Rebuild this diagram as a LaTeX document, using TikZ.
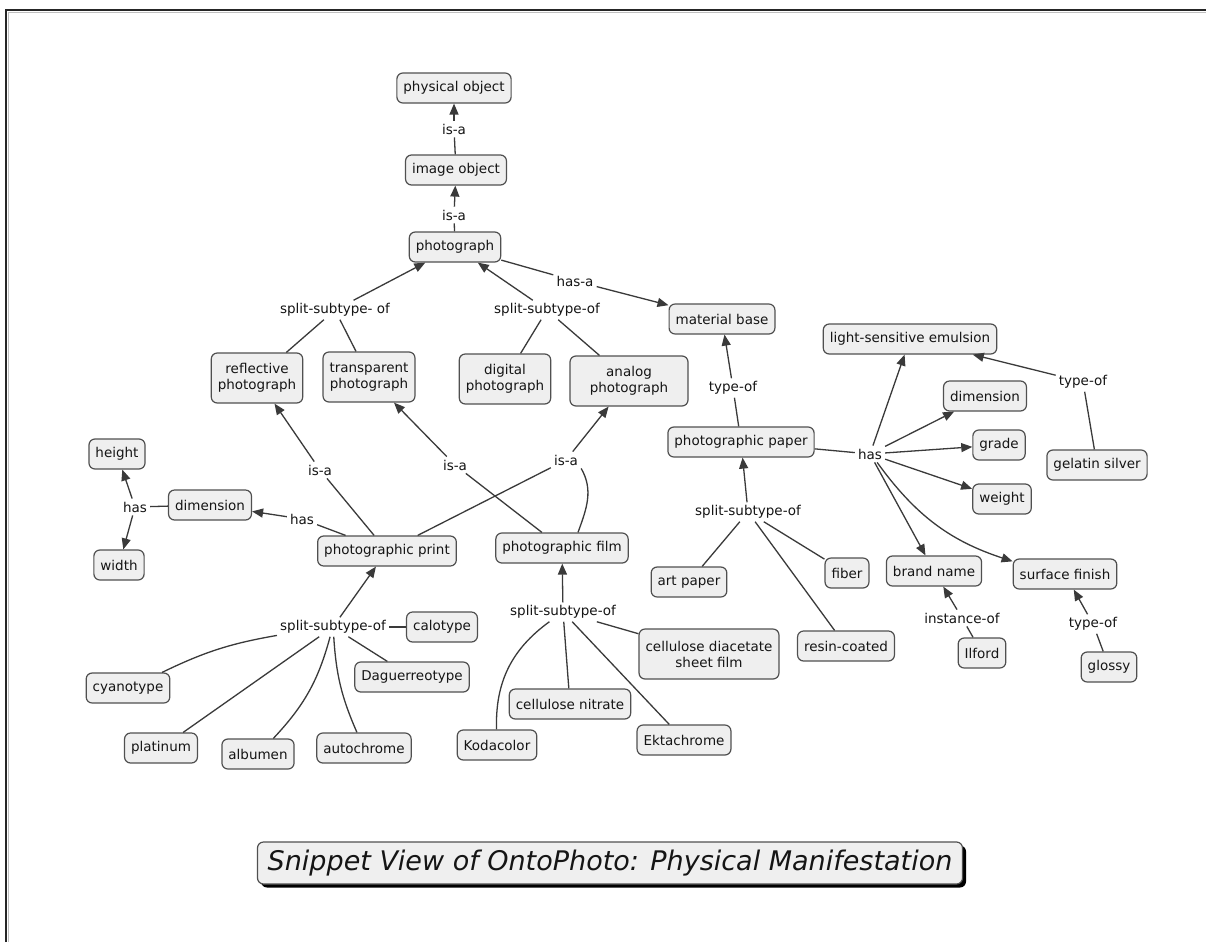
\documentclass[tikz,border=0pt]{standalone}
\usepackage{fontspec}
\setmainfont{DejaVu Sans}
\usetikzlibrary{arrows.meta,shadows}
\definecolor{nodefill}{HTML}{EFEFEF}
\definecolor{bordercol}{HTML}{505050}
\definecolor{linecol}{HTML}{3A3A3A}
\definecolor{textcol}{HTML}{151515}
\newcommand\fsz{\fontsize{13.5}{16}\selectfont}
\begin{document}
\begin{tikzpicture}[x=1pt,y=1pt,
  concept/.style={draw=bordercol, fill=nodefill, rounded corners=6pt, line width=1.2pt,
    inner xsep=6.5pt, inner ysep=5pt, minimum height=30pt, align=center, font=\fsz, text=textcol},
  twoline/.style={concept, minimum height=50pt},
  lbl/.style={inner sep=3pt, font=\fsz, text=textcol},
  link/.style={draw=linecol, line width=1.3pt},
  arr/.style={link, -{Triangle[length=11pt,width=9pt]}}
]
\useasboundingbox (0,0) rectangle (1206,-942);
\fill[white] (0,0) rectangle (1206,-942);
% frame
\draw[black!85, line width=1.8pt] (6,-942) -- (6,-10) -- (1206,-10);
\draw[black!25, line width=1pt] (8,-942) -- (8,-12.5) -- (1206,-12.5);

% concepts
\node[concept] (phys) at (454,-88) {physical object};
\node[concept] (imgobj) at (456,-170) {image object};
\node[concept] (photo) at (455,-247) {photograph};
\node[concept] (matbase) at (722,-319) {material base};
\node[twoline] (refl) at (257,-378) {reflective\\photograph};
\node[twoline] (transp) at (369,-377) {transparent\\photograph};
\node[twoline] (digital) at (505,-379) {digital\\photograph};
\node[twoline, minimum width=118pt] (analog) at (629,-381) {analog\\photograph};
\node[concept] (lse) at (910,-339) {light-sensitive emulsion};
\node[concept] (dimR) at (985,-396) {dimension};
\node[concept] (paper) at (741,-442) {photographic paper};
\node[concept] (grade) at (999,-445) {grade};
\node[concept] (gelatin) at (1097,-465) {gelatin silver};
\node[concept] (weight) at (1002,-499) {weight};
\node[concept] (height) at (117,-454) {height};
\node[concept] (dimL) at (210,-505) {dimension};
\node[concept] (print) at (387,-551) {photographic print};
\node[concept] (film) at (562,-548) {photographic film};
\node[concept] (width) at (119,-565) {width};
\node[concept] (artpaper) at (689,-582) {art paper};
\node[concept] (fiber) at (847,-573) {fiber};
\node[concept] (brand) at (934,-571) {brand name};
\node[concept] (surface) at (1065,-574) {surface finish};
\node[concept] (calotype) at (442,-627) {calotype};
\node[twoline] (cda) at (709,-654) {cellulose diacetate\\sheet film};
\node[concept] (resin) at (846,-646) {resin-coated};
\node[concept] (cyan) at (128,-688) {cyanotype};
\node[concept] (dag) at (412,-677) {Daguerreotype};
\node[concept] (nitrate) at (570,-704) {cellulose nitrate};
\node[concept] (ilford) at (982,-653) {Ilford};
\node[concept] (glossy) at (1109,-667) {glossy};
\node[concept] (platinum) at (161,-748) {platinum};
\node[concept] (albumen) at (258,-754) {albumen};
\node[concept] (autochrome) at (364,-748) {autochrome};
\node[concept] (kodacolor) at (497,-745) {Kodacolor};
\node[concept] (ektachrome) at (684,-740) {Ektachrome};

% link labels
\node[lbl] (isa1) at (454,-129) {is-a};
\node[lbl] (isa2) at (454,-215) {is-a};
\node[lbl] (hasa) at (575,-281) {has-a};
\node[lbl] (splitL) at (335,-310) {split-subtype- of};
\node[lbl] (splitR) at (547,-310) {split-subtype-of};
\node[lbl] (typeofGel) at (1083,-382) {type-of};
\node[lbl] (typeofMat) at (733,-388) {type-of};
\node[lbl] (hasR) at (870,-454) {has};
\node[lbl] (isaL) at (320,-470) {is-a};
\node[lbl] (isaM) at (455,-465) {is-a};
\node[lbl] (isaRt) at (566,-460) {is-a};
\node[lbl] (hasL) at (135,-507) {has};
\node[lbl] (hasM) at (302,-519) {has};
\node[lbl] (splitPaper) at (748,-512) {split-subtype-of};
\node[lbl] (splitPrint) at (333,-627) {split-subtype-of};
\node[lbl] (splitFilm) at (563,-612) {split-subtype-of};
\node[lbl] (instance) at (962,-618) {instance-of};
\node[lbl] (typeofGlossy) at (1093,-624) {type-of};

% top chain
\draw[link] (imgobj) -- (isa1);
\draw[arr] (isa1) -- (phys);
\draw[link] (photo) -- (isa2);
\draw[arr] (isa2) -- (imgobj);
\draw[link] (photo) -- (hasa);
\draw[arr] (hasa) -- (matbase);

% photograph splits
\draw[arr] (splitL) -- (photo);
\draw[link] (refl) -- (splitL);
\draw[link] (transp) -- (splitL);
\draw[arr] (splitR) -- (photo);
\draw[link] (digital) -- (splitR);
\draw[link] (analog) -- (splitR);

% is-a from print / film
\draw[link] (print) -- (isaL);
\draw[arr] (isaL) -- (refl);
\draw[link] (film) -- (isaM);
\draw[arr] (isaM) -- (transp);
\draw[link] (print) -- (isaRt);
\draw[link] ([xshift=16pt]film.north) to[out=70,in=-60] (isaRt.south east);
\draw[arr] (isaRt) -- (analog);

% dimension left
\draw[link] (print) -- (hasM);
\draw[arr] (hasM) -- (dimL);
\draw[link] (dimL) -- (hasL);
\draw[arr] (hasL) -- (height);
\draw[arr] (hasL) -- (width);

% print splits
\draw[arr] (splitPrint) -- (print);
\draw[link] (calotype) -- (splitPrint);
\draw[link] (cyan) to[bend left=8] (splitPrint);
\draw[link] (platinum) -- (splitPrint);
\draw[link] (albumen) to[bend right=14] (splitPrint);
\draw[link] (autochrome) to[bend left=10] (splitPrint);
\draw[link] (dag) -- (splitPrint);

% film splits
\draw[arr] (splitFilm) -- (film);
\draw[link] (kodacolor) to[bend left=28] (splitFilm);
\draw[link] (nitrate) -- (splitFilm);
\draw[link] (ektachrome) -- (splitFilm);
\draw[link] (cda) -- (splitFilm);

% paper
\draw[link] (paper) -- (typeofMat);
\draw[arr] (typeofMat) -- (matbase);
\draw[arr] (splitPaper) -- (paper);
\draw[link] (artpaper) -- (splitPaper);
\draw[link] (fiber) -- (splitPaper);
\draw[link] (resin) -- (splitPaper);

% has right
\draw[link] (paper) -- (hasR);
\draw[arr] (hasR) -- (lse);
\draw[arr] (hasR) -- (dimR);
\draw[arr] (hasR) -- (grade);
\draw[arr] (hasR) -- (weight);
\draw[arr] (hasR) -- (brand);
\draw[arr] (hasR) to[bend right=18] (surface);

\draw[link] (gelatin) -- (typeofGel);
\draw[arr] (typeofGel) -- (lse);
\draw[link] (ilford) -- (instance);
\draw[arr] (instance) -- (brand);
\draw[link] (glossy) -- (typeofGlossy);
\draw[arr] (typeofGlossy) -- (surface);

% title
\node[draw=bordercol, fill=nodefill, rounded corners=6pt, line width=1.2pt,
  minimum width=705pt, minimum height=42pt, text=textcol,
  font=\fontsize{27}{32}\selectfont\itshape,
  drop shadow={shadow xshift=3.5pt, shadow yshift=-3.5pt, opacity=1, fill=black}]
  (title) at (610,-863) {Snippet View of OntoPhoto: Physical Manifestation};
\end{tikzpicture}
\end{document}
